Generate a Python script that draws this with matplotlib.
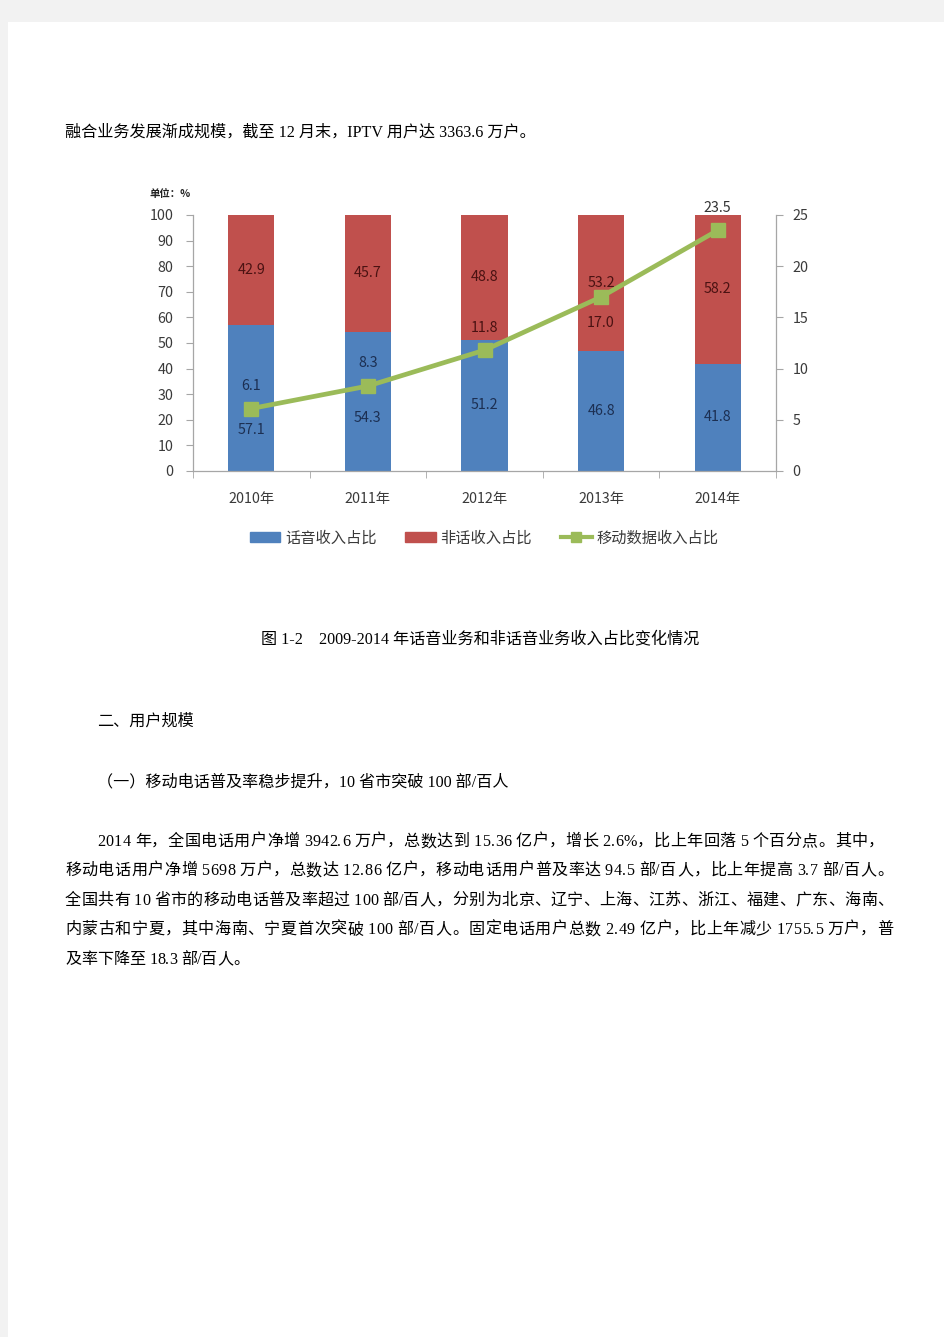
import matplotlib
matplotlib.use("Agg")
import matplotlib.pyplot as plt
from matplotlib.patches import Patch, Rectangle
from matplotlib.lines import Line2D

# ---------------- data ----------------
years = ["2010年", "2011年", "2012年", "2013年", "2014年"]
voice_share = [57.1, 54.3, 51.2, 46.8, 41.8]
nonvoice_share = [42.9, 45.7, 48.8, 53.2, 58.2]
mobile_data_share = [6.1, 8.3, 11.8, 17.0, 23.5]
left_ticks = [0, 10, 20, 30, 40, 50, 60, 70, 80, 90, 100]
right_ticks = [0, 5, 10, 15, 20, 25]
legend_labels = ["话音收入占比", "非话收入占比", "移动数据收入占比"]

top_text = "融合业务发展渐成规模，截至 12 月末，IPTV 用户达 3363.6 万户。"
caption = "图 1-2　2009-2014 年话音业务和非话音业务收入占比变化情况"
heading = "二、用户规模"
subheading = "（一）移动电话普及率稳步提升，10 省市突破 100 部/百人"
para_lines = [
    "2014 年，全国电话用户净增 3942.6 万户，总数达到 15.36 亿户，增长 2.6%，比上年回落 5 个百分点。其中，",
    "移动电话用户净增 5698 万户，总数达 12.86 亿户，移动电话用户普及率达 94.5 部/百人，比上年提高 3.7 部/百人。",
    "全国共有 10 省市的移动电话普及率超过 100 部/百人，分别为北京、辽宁、上海、江苏、浙江、福建、广东、海南、",
    "内蒙古和宁夏，其中海南、宁夏首次突破 100 部/百人。固定电话用户总数 2.49 亿户，比上年减少 1755.5 万户，普",
    "及率下降至 18.3 部/百人。",
]

# ---------------- figure ----------------
W, H = 945, 1337
fig = plt.figure(figsize=(W / 100, H / 100), dpi=100)
fig.patch.set_facecolor("#f2f2f2")
fig.add_artist(Rectangle((8 / W, 0), 1, 1 - 22 / H, transform=fig.transFigure,
                         facecolor="white", edgecolor="none", zorder=0))

def fx(px):
    return px / W

def fy(py):
    return 1 - py / H

BODY = ["Liberation Serif", "Noto Sans CJK SC"]
CH = ["Noto Sans CJK SC", "DejaVu Sans"]
BLUE = "#4f81bd"
RED = "#c0504d"
GREEN = "#9bbb59"
AXC = "#a6a6a6"
TXT = "#3a3a3a"
BFS = 11.6
TFS = 10.3

# ---------------- chart ----------------
ax = fig.add_axes([fx(193), fy(471), fx(776) - fx(193), fy(215) - fy(471)])
ax.set_facecolor("none")
x = list(range(len(years)))
bw = 0.395
ax.bar(x, voice_share, width=bw, color=BLUE, zorder=2)
ax.bar(x, nonvoice_share, width=bw, bottom=voice_share, color=RED, zorder=2)
ax.set_xlim(-0.5, len(years) - 0.5)
ax.set_ylim(0, 100)
ax.set_yticks(left_ticks)
ax.set_xticks(x)
ax.set_xticklabels(years, family=CH, fontsize=TFS, color=TXT)
ax.set_xticks([i + 0.5 for i in range(-1, len(years))], minor=True)
ax.tick_params(axis="x", which="major", length=0, pad=15)
ax.tick_params(axis="x", which="minor", length=5, color=AXC, direction="out")
ax.tick_params(axis="y", length=5, color=AXC, direction="out", pad=9)
for lab in ax.get_yticklabels():
    lab.set_family(CH)
    lab.set_fontsize(TFS)
    lab.set_color(TXT)
for s in ["top", "right"]:
    ax.spines[s].set_visible(False)
for s in ["left", "bottom"]:
    ax.spines[s].set_color(AXC)
    ax.spines[s].set_linewidth(0.9)

ax2 = ax.twinx()
ax2.set_ylim(0, 25)
ax2.set_yticks(right_ticks)
ax2.tick_params(axis="y", length=5, color=AXC, direction="out", pad=7)
for lab in ax2.get_yticklabels():
    lab.set_family(CH)
    lab.set_fontsize(TFS)
    lab.set_color(TXT)
for s in ["top", "left", "bottom"]:
    ax2.spines[s].set_visible(False)
ax2.spines["right"].set_color(AXC)
ax2.spines["right"].set_linewidth(0.9)
ax2.plot(x, mobile_data_share, color=GREEN, lw=3.4, marker="s", ms=10,
         mfc=GREEN, mec=GREEN, zorder=3)

# value labels
LBL_BLUE = "#1c2f52"
LBL_RED = "#4a1212"
voice_shift = [-12.5, -6.5, 0, 0, 0]   # vertical nudges (left-axis units)
for i in range(len(years)):
    ax.text(x[i], voice_share[i] / 2 + voice_shift[i], f"{voice_share[i]:.1f}",
            ha="center", va="center", fontsize=TFS, family=CH, color=LBL_BLUE, zorder=4)
    ax.text(x[i], voice_share[i] + nonvoice_share[i] / 2, f"{nonvoice_share[i]:.1f}",
            ha="center", va="center", fontsize=TFS, family=CH, color=LBL_RED, zorder=4)
line_offsets = [2.2, 2.2, 2.2, -2.5, 2.2]   # right-axis units
line_colors = [LBL_BLUE, LBL_BLUE, LBL_RED, LBL_RED, "#333333"]
for i in range(len(years)):
    ax2.text(x[i], mobile_data_share[i] + line_offsets[i], f"{mobile_data_share[i]:.1f}",
             ha="center", va="center", fontsize=TFS, family=CH, color=line_colors[i],
             zorder=5, clip_on=False)

fig.text(fx(150), fy(194), "单位：%", family=CH, fontsize=7.5, fontweight="bold",
         color="#222222", ha="left", va="center")

handles = [Patch(color=BLUE), Patch(color=RED),
           Line2D([0], [0], color=GREEN, lw=3, marker="s", ms=7, mfc=GREEN, mec=GREEN)]
leg = fig.legend(handles, legend_labels, loc="center", bbox_to_anchor=(fx(484), fy(538)),
                 ncol=3, frameon=False, handlelength=2.0, handleheight=0.55,
                 handletextpad=0.3, columnspacing=1.9,
                 prop={"family": CH, "size": 11})
for t in leg.get_texts():
    t.set_color(TXT)

# ---------------- document text ----------------
fig.text(fx(65), fy(133), top_text, family=BODY, fontsize=BFS, color="black",
         ha="left", va="center")
fig.text(fx(480), fy(640), caption, family=BODY, fontsize=BFS, color="black",
         ha="center", va="center")
fig.text(fx(97), fy(722), heading, family=BODY, fontsize=BFS, color="black",
         ha="left", va="center")
fig.text(fx(97), fy(782), subheading, family=BODY, fontsize=BFS, color="black",
         ha="left", va="center")

renderer = fig.canvas.get_renderer()

def justified(line, x0, x1, ypx):
    chars = list(line)
    objs = [fig.text(0, fy(ypx), c, family=BODY, fontsize=BFS, color="black",
                     ha="left", va="center") for c in chars]
    widths = [o.get_window_extent(renderer).width if c != " " else 3.5
              for o, c in zip(objs, chars)]
    total = sum(widths)
    extra = (x1 - x0 - total) / max(len(chars) - 1, 1) if x1 else 0
    cur = x0
    for o, w in zip(objs, widths):
        o.set_x(fx(cur))
        cur += w + extra

para_y = [842, 871, 901, 930, 960]
para_x0 = [97, 65, 65, 65, 65]
para_x1 = [884, 893, 893, 893, None]
for line, yv, a, b in zip(para_lines, para_y, para_x0, para_x1):
    justified(line, a, b, yv)

fig.savefig("out.png", dpi=100, facecolor=fig.get_facecolor())
